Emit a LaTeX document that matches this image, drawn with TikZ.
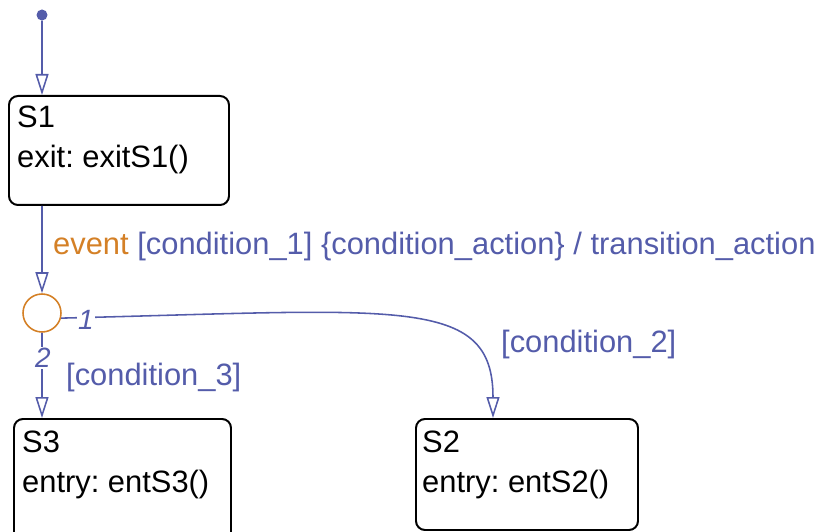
\documentclass[tikz,border=0pt]{standalone}
\usepackage{fontspec}
\setmainfont{Liberation Sans}
\usetikzlibrary{arrows.meta}
\frenchspacing

\definecolor{sfblue}{RGB}{84,92,170}
\definecolor{sforange}{RGB}{212,128,38}

\tikzset{
  chartstate/.style={draw=black,line width=0.7mm,rounded corners=9bp,inner sep=0pt,anchor=north west},
  statetext/.style={anchor=north west,align=left,inner xsep=9bp,inner ysep=11bp,font=\fontsize{31}{40}\selectfont},
  trans/.style={draw=sfblue,line width=0.55mm,-{Triangle[open,length=21bp,width=13bp]}},
  translabel/.style={text=sfblue,anchor=base west,inner sep=0pt,font=\fontsize{31}{40}\selectfont},
  orderlabel/.style={text=sfblue,fill=white,inner sep=1bp,font=\fontsize{28}{34}\selectfont\itshape}
}

\begin{document}
\begin{tikzpicture}[x=1bp,y=-1bp]

\clip (0,0) rectangle (826,532);

% states
\node[chartstate,minimum width=220bp,minimum height=109bp,
  label={[statetext]north west:{S1\\exit: exitS1()}}] (S1) at (8,95) {};
\node[chartstate,minimum width=217bp,minimum height=130bp,
  label={[statetext,inner ysep=13bp]north west:{S3\\entry: entS3()}}] (S3) at (13,418) {};
\node[chartstate,minimum width=222bp,minimum height=111bp,
  label={[statetext,inner xsep=7bp,inner ysep=13bp]north west:{S2\\entry: entS2()}}] (S2) at (415,418) {};

% default transition and junction
\node[circle,fill=sfblue,minimum size=11bp,inner sep=0pt] (init) at (42,15) {};
\node[circle,draw=sforange,line width=0.55mm,minimum size=38bp,inner sep=0pt] (J) at (42,313) {};

\draw[trans] (init) -- ([xshift=34bp]S1.north west);
\draw[trans] ([xshift=34bp]S1.south west) -- (J);
\draw[trans] (J) -- ([xshift=29bp]S3.north west); %2
\draw[trans] (J.-15) .. controls (400,310) and (493,295) .. ([xshift=78bp]S2.north west); %1

% labels
\node[orderlabel] (o1) at (86,320) {1};
\node[orderlabel] (o2) at (43,358) {2};

\node[translabel] (t1) at (53,255) {\textcolor{sforange}{event} [condition\_1] \{condition\_action\} / transition\_action};
\node[translabel] (t2) at (501,352) {[condition\_2]};
\node[translabel] (t3) at (66,385) {[condition\_3]};

\end{tikzpicture}
\end{document}
